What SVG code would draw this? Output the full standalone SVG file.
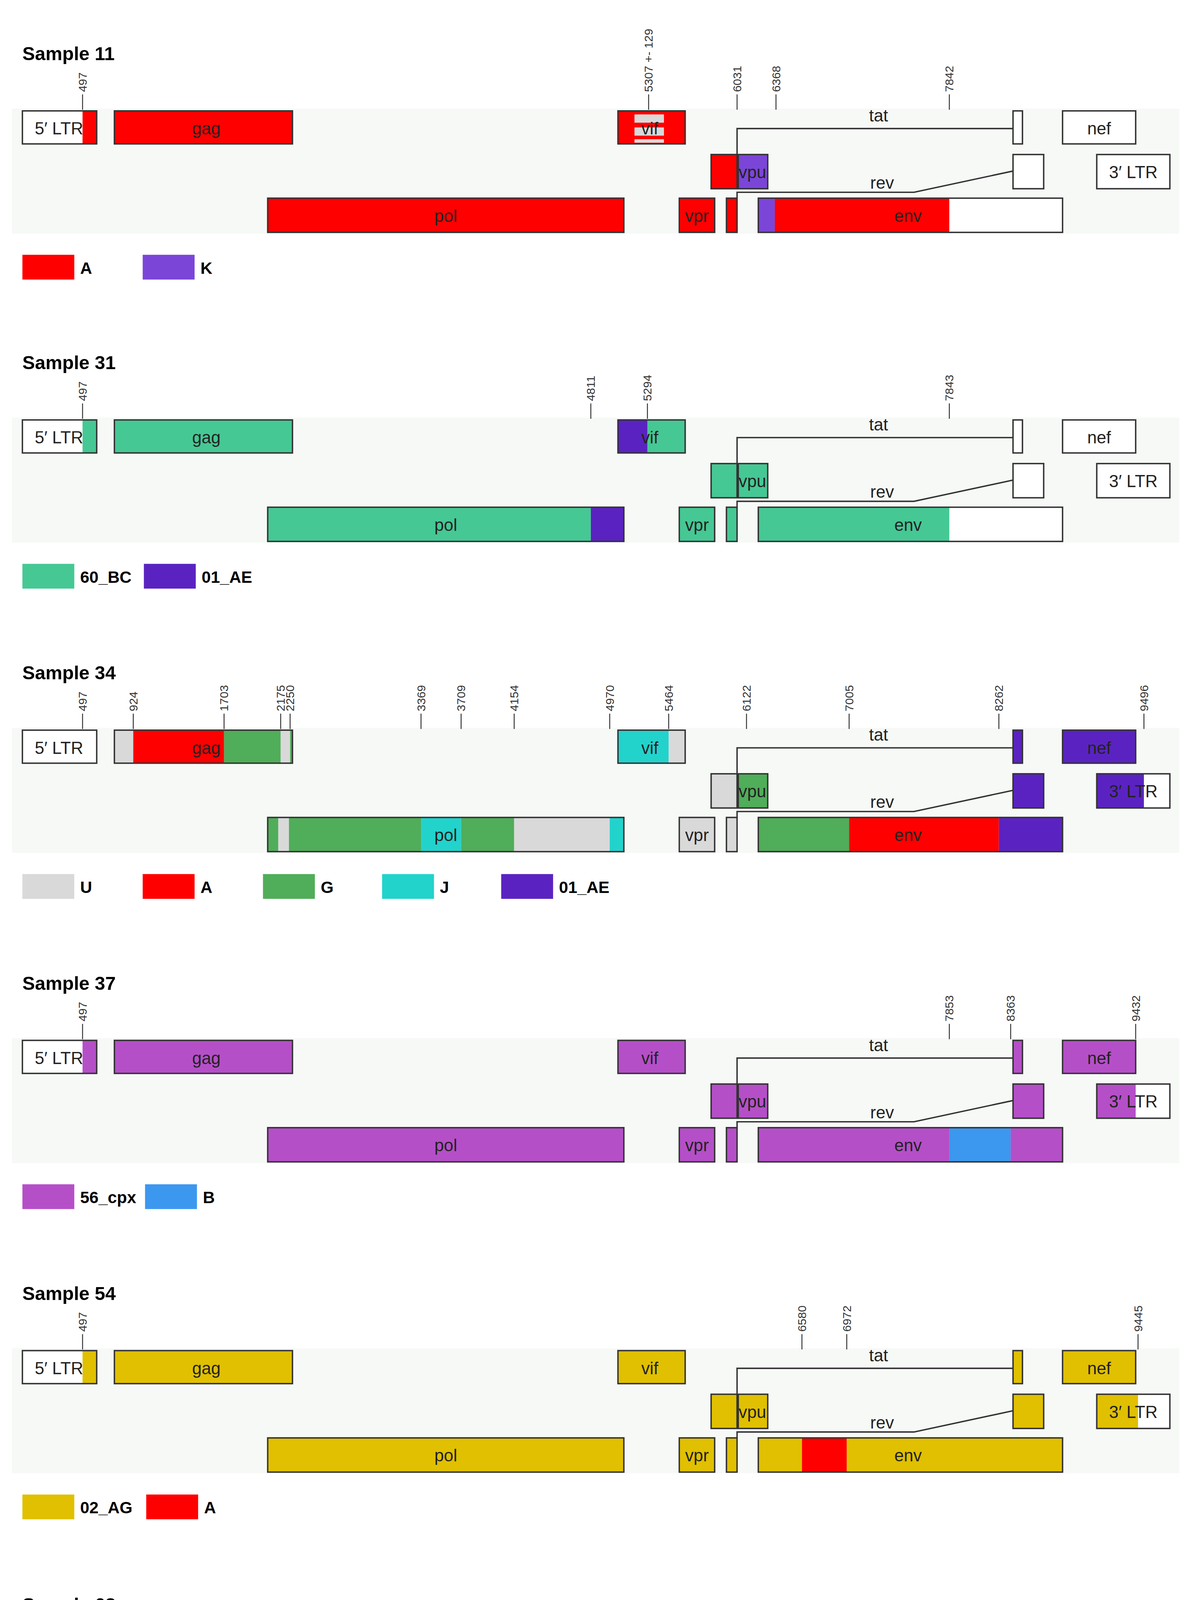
<svg xmlns="http://www.w3.org/2000/svg" width="3065" height="4733" viewBox="0 0 3065 4733">
<style>
text{font-family:"Liberation Sans",Arial,sans-serif;fill:#222}
.t{font-size:16px;font-weight:bold;fill:#000}
.g{font-size:14.5px;text-anchor:middle}
.n{font-size:10px;fill:#333}
.lg{font-size:14px;font-weight:bold;fill:#000}
.o{fill:none;stroke:#333;stroke-width:1.2}
.tk{stroke:#333;stroke-width:0.8}
.c{fill:none;stroke:#333;stroke-width:1.2}
.bd{fill:#f6f9f6}
.W{fill:#fff}.A{fill:#ff0000}.K{fill:#7b45d8}.BC{fill:#45c894}.AE{fill:#5a23c1}
.U{fill:#d9d9d9}.G{fill:#50ad59}.J{fill:#22d3cc}.X{fill:#b54fc8}.B{fill:#3c97ef}
.AG{fill:#e0c000}.P{fill:#8822ff}
</style>
<rect width="3065" height="4733" fill="#fff"/>
<g transform="scale(3.0197)">

<!-- Sample 11 -->
<g id="sample11">
<rect class="bd" x="10" y="92" width="990" height="106"/>
<text class="t" x="19" y="51">Sample 11</text>
<g id="s11-ticks">
<line class="tk" x1="70" y1="93" x2="70" y2="80"/><text class="n" transform="translate(73.5,78) rotate(-90)">497</text>
<line class="tk" x1="550" y1="93" x2="550" y2="80"/><text class="n" transform="translate(553.5,78) rotate(-90)">5307 +- 129</text>
<line class="tk" x1="625" y1="93" x2="625" y2="80"/><text class="n" transform="translate(628.5,78) rotate(-90)">6031</text>
<line class="tk" x1="658" y1="93" x2="658" y2="80"/><text class="n" transform="translate(661.5,78) rotate(-90)">6368</text>
<line class="tk" x1="805" y1="93" x2="805" y2="80"/><text class="n" transform="translate(808.5,78) rotate(-90)">7842</text>
</g>
<g id="s11-ltr5"><rect class="W" x="19" y="94" width="51" height="28"/><rect class="A" x="70" y="94" width="12" height="28"/><rect class="o" x="19" y="94" width="63" height="28"/><text class="g" x="50" y="114">5′ LTR</text></g>
<g id="s11-gag"><rect class="A" x="97" y="94" width="151" height="28"/><rect class="o" x="97" y="94" width="151" height="28"/><text class="g" x="175" y="114">gag</text></g>
<g id="s11-vif"><rect class="A" x="524" y="94" width="57" height="28"/><rect class="U" x="538" y="97" width="25" height="7"/><rect class="U" x="538" y="108" width="25" height="7"/><rect class="U" x="538" y="118" width="25" height="3"/><rect class="o" x="524" y="94" width="57" height="28"/><text class="g" x="551" y="114">vif</text></g>
<g id="s11-tat"><rect class="W" x="859" y="94" width="8" height="28"/><rect class="o" x="859" y="94" width="8" height="28"/><text class="g" x="745" y="103">tat</text></g>
<g id="s11-nef"><rect class="W" x="901" y="94" width="62" height="28"/><rect class="o" x="901" y="94" width="62" height="28"/><text class="g" x="932" y="114">nef</text></g>
<g id="s11-vpu"><rect class="A" x="603" y="131" width="22" height="29"/><rect class="o" x="603" y="131" width="22" height="29"/><rect class="K" x="626" y="131" width="25" height="29"/><rect class="o" x="626" y="131" width="25" height="29"/><text class="g" x="638" y="151">vpu</text></g>
<g id="s11-rev"><rect class="W" x="859" y="131" width="26" height="29"/><rect class="o" x="859" y="131" width="26" height="29"/><text class="g" x="748" y="160">rev</text></g>
<g id="s11-ltr3"><rect class="W" x="930" y="131" width="62" height="29"/><rect class="o" x="930" y="131" width="62" height="29"/><text class="g" x="961" y="151">3′ LTR</text></g>
<g id="s11-pol"><rect class="A" x="227" y="168" width="302" height="29"/><rect class="o" x="227" y="168" width="302" height="29"/><text class="g" x="378" y="188">pol</text></g>
<g id="s11-vpr"><rect class="A" x="576" y="168" width="30" height="29"/><rect class="o" x="576" y="168" width="30" height="29"/><text class="g" x="591" y="188">vpr</text></g>
<g id="s11-x"><rect class="A" x="616" y="168" width="9" height="29"/><rect class="o" x="616" y="168" width="9" height="29"/></g>
<g id="s11-env"><rect class="K" x="643" y="168" width="14" height="29"/><rect class="A" x="657" y="168" width="148" height="29"/><rect class="W" x="805" y="168" width="96" height="29"/><rect class="o" x="643" y="168" width="258" height="29"/><text class="g" x="770" y="188">env</text></g>
<g id="s11-legend"><rect class="A" x="19" y="216" width="44" height="21"/><text class="lg" x="68" y="232">A</text><rect class="K" x="121" y="216" width="44" height="21"/><text class="lg" x="170" y="232">K</text></g>
</g>

<!-- Sample 31 -->
<g id="sample31" transform="translate(0,262)">
<rect class="bd" x="10" y="92" width="990" height="106"/>
<text class="t" x="19" y="51">Sample 31</text>
<g id="s31-ticks">
<line class="tk" x1="70" y1="93" x2="70" y2="80"/><text class="n" transform="translate(73.5,78) rotate(-90)">497</text>
<line class="tk" x1="501" y1="93" x2="501" y2="80"/><text class="n" transform="translate(504.5,78) rotate(-90)">4811</text>
<line class="tk" x1="549" y1="93" x2="549" y2="80"/><text class="n" transform="translate(552.5,78) rotate(-90)">5294</text>
<line class="tk" x1="805" y1="93" x2="805" y2="80"/><text class="n" transform="translate(808.5,78) rotate(-90)">7843</text>
</g>
<g id="s31-ltr5"><rect class="W" x="19" y="94" width="51" height="28"/><rect class="BC" x="70" y="94" width="12" height="28"/><rect class="o" x="19" y="94" width="63" height="28"/><text class="g" x="50" y="114">5′ LTR</text></g>
<g id="s31-gag"><rect class="BC" x="97" y="94" width="151" height="28"/><rect class="o" x="97" y="94" width="151" height="28"/><text class="g" x="175" y="114">gag</text></g>
<g id="s31-vif"><rect class="AE" x="524" y="94" width="25" height="28"/><rect class="BC" x="549" y="94" width="32" height="28"/><rect class="o" x="524" y="94" width="57" height="28"/><text class="g" x="551" y="114">vif</text></g>
<g id="s31-tat"><rect class="W" x="859" y="94" width="8" height="28"/><rect class="o" x="859" y="94" width="8" height="28"/><text class="g" x="745" y="103">tat</text></g>
<g id="s31-nef"><rect class="W" x="901" y="94" width="62" height="28"/><rect class="o" x="901" y="94" width="62" height="28"/><text class="g" x="932" y="114">nef</text></g>
<g id="s31-vpu"><rect class="BC" x="603" y="131" width="22" height="29"/><rect class="o" x="603" y="131" width="22" height="29"/><rect class="BC" x="626" y="131" width="25" height="29"/><rect class="o" x="626" y="131" width="25" height="29"/><text class="g" x="638" y="151">vpu</text></g>
<g id="s31-rev"><rect class="W" x="859" y="131" width="26" height="29"/><rect class="o" x="859" y="131" width="26" height="29"/><text class="g" x="748" y="160">rev</text></g>
<g id="s31-ltr3"><rect class="W" x="930" y="131" width="62" height="29"/><rect class="o" x="930" y="131" width="62" height="29"/><text class="g" x="961" y="151">3′ LTR</text></g>
<g id="s31-pol"><rect class="BC" x="227" y="168" width="274" height="29"/><rect class="AE" x="501" y="168" width="28" height="29"/><rect class="o" x="227" y="168" width="302" height="29"/><text class="g" x="378" y="188">pol</text></g>
<g id="s31-vpr"><rect class="BC" x="576" y="168" width="30" height="29"/><rect class="o" x="576" y="168" width="30" height="29"/><text class="g" x="591" y="188">vpr</text></g>
<g id="s31-x"><rect class="BC" x="616" y="168" width="9" height="29"/><rect class="o" x="616" y="168" width="9" height="29"/></g>
<g id="s31-env"><rect class="BC" x="643" y="168" width="162" height="29"/><rect class="W" x="805" y="168" width="96" height="29"/><rect class="o" x="643" y="168" width="258" height="29"/><text class="g" x="770" y="188">env</text></g>
<g id="s31-legend"><rect class="BC" x="19" y="216" width="44" height="21"/><text class="lg" x="68" y="232">60_BC</text><rect class="AE" x="122" y="216" width="44" height="21"/><text class="lg" x="171" y="232">01_AE</text></g>
</g>

<!-- Sample 34 -->
<g id="sample34" transform="translate(0,525)">
<rect class="bd" x="10" y="92" width="990" height="106"/>
<text class="t" x="19" y="51">Sample 34</text>
<g id="s34-ticks">
<line class="tk" x1="70" y1="93" x2="70" y2="80"/><text class="n" transform="translate(73.5,78) rotate(-90)">497</text>
<line class="tk" x1="113" y1="93" x2="113" y2="80"/><text class="n" transform="translate(116.5,78) rotate(-90)">924</text>
<line class="tk" x1="190" y1="93" x2="190" y2="80"/><text class="n" transform="translate(193.5,78) rotate(-90)">1703</text>
<line class="tk" x1="238" y1="93" x2="238" y2="80"/><text class="n" transform="translate(241.5,78) rotate(-90)">2175</text>
<line class="tk" x1="246" y1="93" x2="246" y2="80"/><text class="n" transform="translate(249.5,78) rotate(-90)">2250</text>
<line class="tk" x1="357" y1="93" x2="357" y2="80"/><text class="n" transform="translate(360.5,78) rotate(-90)">3369</text>
<line class="tk" x1="391" y1="93" x2="391" y2="80"/><text class="n" transform="translate(394.5,78) rotate(-90)">3709</text>
<line class="tk" x1="436" y1="93" x2="436" y2="80"/><text class="n" transform="translate(439.5,78) rotate(-90)">4154</text>
<line class="tk" x1="517" y1="93" x2="517" y2="80"/><text class="n" transform="translate(520.5,78) rotate(-90)">4970</text>
<line class="tk" x1="567" y1="93" x2="567" y2="80"/><text class="n" transform="translate(570.5,78) rotate(-90)">5464</text>
<line class="tk" x1="633" y1="93" x2="633" y2="80"/><text class="n" transform="translate(636.5,78) rotate(-90)">6122</text>
<line class="tk" x1="720" y1="93" x2="720" y2="80"/><text class="n" transform="translate(723.5,78) rotate(-90)">7005</text>
<line class="tk" x1="847" y1="93" x2="847" y2="80"/><text class="n" transform="translate(850.5,78) rotate(-90)">8262</text>
<line class="tk" x1="970" y1="93" x2="970" y2="80"/><text class="n" transform="translate(973.5,78) rotate(-90)">9496</text>
</g>
<g id="s34-ltr5"><rect class="W" x="19" y="94" width="63" height="28"/><rect class="o" x="19" y="94" width="63" height="28"/><text class="g" x="50" y="114">5′ LTR</text></g>
<g id="s34-gag"><rect class="U" x="97" y="94" width="16" height="28"/><rect class="A" x="113" y="94" width="77" height="28"/><rect class="G" x="190" y="94" width="48" height="28"/><rect class="U" x="238" y="94" width="8" height="28"/><rect class="G" x="246" y="94" width="2" height="28"/><rect class="o" x="97" y="94" width="151" height="28"/><text class="g" x="175" y="114">gag</text></g>
<g id="s34-vif"><rect class="J" x="524" y="94" width="43" height="28"/><rect class="U" x="567" y="94" width="14" height="28"/><rect class="o" x="524" y="94" width="57" height="28"/><text class="g" x="551" y="114">vif</text></g>
<g id="s34-tat"><rect class="AE" x="859" y="94" width="8" height="28"/><rect class="o" x="859" y="94" width="8" height="28"/><text class="g" x="745" y="103">tat</text></g>
<g id="s34-nef"><rect class="AE" x="901" y="94" width="62" height="28"/><rect class="o" x="901" y="94" width="62" height="28"/><text class="g" x="932" y="114">nef</text></g>
<g id="s34-vpu"><rect class="U" x="603" y="131" width="22" height="29"/><rect class="o" x="603" y="131" width="22" height="29"/><rect class="G" x="626" y="131" width="25" height="29"/><rect class="o" x="626" y="131" width="25" height="29"/><text class="g" x="638" y="151">vpu</text></g>
<g id="s34-rev"><rect class="AE" x="859" y="131" width="26" height="29"/><rect class="o" x="859" y="131" width="26" height="29"/><text class="g" x="748" y="160">rev</text></g>
<g id="s34-ltr3"><rect class="AE" x="930" y="131" width="40" height="29"/><rect class="W" x="970" y="131" width="22" height="29"/><rect class="o" x="930" y="131" width="62" height="29"/><text class="g" x="961" y="151">3′ LTR</text></g>
<g id="s34-pol"><rect class="G" x="227" y="168" width="9" height="29"/><rect class="U" x="236" y="168" width="9" height="29"/><rect class="G" x="245" y="168" width="112" height="29"/><rect class="J" x="357" y="168" width="34" height="29"/><rect class="G" x="391" y="168" width="45" height="29"/><rect class="U" x="436" y="168" width="81" height="29"/><rect class="J" x="517" y="168" width="12" height="29"/><rect class="o" x="227" y="168" width="302" height="29"/><text class="g" x="378" y="188">pol</text></g>
<g id="s34-vpr"><rect class="U" x="576" y="168" width="30" height="29"/><rect class="o" x="576" y="168" width="30" height="29"/><text class="g" x="591" y="188">vpr</text></g>
<g id="s34-x"><rect class="U" x="616" y="168" width="9" height="29"/><rect class="o" x="616" y="168" width="9" height="29"/></g>
<g id="s34-env"><rect class="G" x="643" y="168" width="77" height="29"/><rect class="A" x="720" y="168" width="127" height="29"/><rect class="AE" x="847" y="168" width="54" height="29"/><rect class="o" x="643" y="168" width="258" height="29"/><text class="g" x="770" y="188">env</text></g>
<g id="s34-legend"><rect class="U" x="19" y="216" width="44" height="21"/><text class="lg" x="68" y="232">U</text><rect class="A" x="121" y="216" width="44" height="21"/><text class="lg" x="170" y="232">A</text><rect class="G" x="223" y="216" width="44" height="21"/><text class="lg" x="272" y="232">G</text><rect class="J" x="324" y="216" width="44" height="21"/><text class="lg" x="373" y="232">J</text><rect class="AE" x="425" y="216" width="44" height="21"/><text class="lg" x="474" y="232">01_AE</text></g>
</g>

<!-- Sample 37 -->
<g id="sample37" transform="translate(0,788)">
<rect class="bd" x="10" y="92" width="990" height="106"/>
<text class="t" x="19" y="51">Sample 37</text>
<g id="s37-ticks">
<line class="tk" x1="70" y1="93" x2="70" y2="80"/><text class="n" transform="translate(73.5,78) rotate(-90)">497</text>
<line class="tk" x1="805" y1="93" x2="805" y2="80"/><text class="n" transform="translate(808.5,78) rotate(-90)">7853</text>
<line class="tk" x1="857" y1="93" x2="857" y2="80"/><text class="n" transform="translate(860.5,78) rotate(-90)">8363</text>
<line class="tk" x1="963" y1="93" x2="963" y2="80"/><text class="n" transform="translate(966.5,78) rotate(-90)">9432</text>
</g>
<g id="s37-ltr5"><rect class="W" x="19" y="94" width="51" height="28"/><rect class="X" x="70" y="94" width="12" height="28"/><rect class="o" x="19" y="94" width="63" height="28"/><text class="g" x="50" y="114">5′ LTR</text></g>
<g id="s37-gag"><rect class="X" x="97" y="94" width="151" height="28"/><rect class="o" x="97" y="94" width="151" height="28"/><text class="g" x="175" y="114">gag</text></g>
<g id="s37-vif"><rect class="X" x="524" y="94" width="57" height="28"/><rect class="o" x="524" y="94" width="57" height="28"/><text class="g" x="551" y="114">vif</text></g>
<g id="s37-tat"><rect class="X" x="859" y="94" width="8" height="28"/><rect class="o" x="859" y="94" width="8" height="28"/><text class="g" x="745" y="103">tat</text></g>
<g id="s37-nef"><rect class="X" x="901" y="94" width="62" height="28"/><rect class="o" x="901" y="94" width="62" height="28"/><text class="g" x="932" y="114">nef</text></g>
<g id="s37-vpu"><rect class="X" x="603" y="131" width="22" height="29"/><rect class="o" x="603" y="131" width="22" height="29"/><rect class="X" x="626" y="131" width="25" height="29"/><rect class="o" x="626" y="131" width="25" height="29"/><text class="g" x="638" y="151">vpu</text></g>
<g id="s37-rev"><rect class="X" x="859" y="131" width="26" height="29"/><rect class="o" x="859" y="131" width="26" height="29"/><text class="g" x="748" y="160">rev</text></g>
<g id="s37-ltr3"><rect class="X" x="930" y="131" width="33" height="29"/><rect class="W" x="963" y="131" width="29" height="29"/><rect class="o" x="930" y="131" width="62" height="29"/><text class="g" x="961" y="151">3′ LTR</text></g>
<g id="s37-pol"><rect class="X" x="227" y="168" width="302" height="29"/><rect class="o" x="227" y="168" width="302" height="29"/><text class="g" x="378" y="188">pol</text></g>
<g id="s37-vpr"><rect class="X" x="576" y="168" width="30" height="29"/><rect class="o" x="576" y="168" width="30" height="29"/><text class="g" x="591" y="188">vpr</text></g>
<g id="s37-x"><rect class="X" x="616" y="168" width="9" height="29"/><rect class="o" x="616" y="168" width="9" height="29"/></g>
<g id="s37-env"><rect class="X" x="643" y="168" width="162" height="29"/><rect class="B" x="805" y="168" width="52" height="29"/><rect class="X" x="857" y="168" width="44" height="29"/><rect class="o" x="643" y="168" width="258" height="29"/><text class="g" x="770" y="188">env</text></g>
<g id="s37-legend"><rect class="X" x="19" y="216" width="44" height="21"/><text class="lg" x="68" y="232">56_cpx</text><rect class="B" x="123" y="216" width="44" height="21"/><text class="lg" x="172" y="232">B</text></g>
</g>

<!-- Sample 54 -->
<g id="sample54" transform="translate(0,1051)">
<rect class="bd" x="10" y="92" width="990" height="106"/>
<text class="t" x="19" y="51">Sample 54</text>
<g id="s54-ticks">
<line class="tk" x1="70" y1="93" x2="70" y2="80"/><text class="n" transform="translate(73.5,78) rotate(-90)">497</text>
<line class="tk" x1="680" y1="93" x2="680" y2="80"/><text class="n" transform="translate(683.5,78) rotate(-90)">6580</text>
<line class="tk" x1="718" y1="93" x2="718" y2="80"/><text class="n" transform="translate(721.5,78) rotate(-90)">6972</text>
<line class="tk" x1="965" y1="93" x2="965" y2="80"/><text class="n" transform="translate(968.5,78) rotate(-90)">9445</text>
</g>
<g id="s54-ltr5"><rect class="W" x="19" y="94" width="51" height="28"/><rect class="AG" x="70" y="94" width="12" height="28"/><rect class="o" x="19" y="94" width="63" height="28"/><text class="g" x="50" y="114">5′ LTR</text></g>
<g id="s54-gag"><rect class="AG" x="97" y="94" width="151" height="28"/><rect class="o" x="97" y="94" width="151" height="28"/><text class="g" x="175" y="114">gag</text></g>
<g id="s54-vif"><rect class="AG" x="524" y="94" width="57" height="28"/><rect class="o" x="524" y="94" width="57" height="28"/><text class="g" x="551" y="114">vif</text></g>
<g id="s54-tat"><rect class="AG" x="859" y="94" width="8" height="28"/><rect class="o" x="859" y="94" width="8" height="28"/><text class="g" x="745" y="103">tat</text></g>
<g id="s54-nef"><rect class="AG" x="901" y="94" width="62" height="28"/><rect class="o" x="901" y="94" width="62" height="28"/><text class="g" x="932" y="114">nef</text></g>
<g id="s54-vpu"><rect class="AG" x="603" y="131" width="22" height="29"/><rect class="o" x="603" y="131" width="22" height="29"/><rect class="AG" x="626" y="131" width="25" height="29"/><rect class="o" x="626" y="131" width="25" height="29"/><text class="g" x="638" y="151">vpu</text></g>
<g id="s54-rev"><rect class="AG" x="859" y="131" width="26" height="29"/><rect class="o" x="859" y="131" width="26" height="29"/><text class="g" x="748" y="160">rev</text></g>
<g id="s54-ltr3"><rect class="AG" x="930" y="131" width="35" height="29"/><rect class="W" x="965" y="131" width="27" height="29"/><rect class="o" x="930" y="131" width="62" height="29"/><text class="g" x="961" y="151">3′ LTR</text></g>
<g id="s54-pol"><rect class="AG" x="227" y="168" width="302" height="29"/><rect class="o" x="227" y="168" width="302" height="29"/><text class="g" x="378" y="188">pol</text></g>
<g id="s54-vpr"><rect class="AG" x="576" y="168" width="30" height="29"/><rect class="o" x="576" y="168" width="30" height="29"/><text class="g" x="591" y="188">vpr</text></g>
<g id="s54-x"><rect class="AG" x="616" y="168" width="9" height="29"/><rect class="o" x="616" y="168" width="9" height="29"/></g>
<g id="s54-env"><rect class="AG" x="643" y="168" width="37" height="29"/><rect class="A" x="680" y="168" width="38" height="29"/><rect class="AG" x="718" y="168" width="183" height="29"/><rect class="o" x="643" y="168" width="258" height="29"/><text class="g" x="770" y="188">env</text></g>
<g id="s54-legend"><rect class="AG" x="19" y="216" width="44" height="21"/><text class="lg" x="68" y="232">02_AG</text><rect class="A" x="124" y="216" width="44" height="21"/><text class="lg" x="173" y="232">A</text></g>
</g>

<!-- Sample 68 -->
<g id="sample68" transform="translate(0,1315)">
<rect class="bd" x="10" y="92" width="990" height="106"/>
<text class="t" x="19" y="51">Sample 68</text>
<g id="s68-ticks">
<line class="tk" x1="70" y1="93" x2="70" y2="80"/><text class="n" transform="translate(73.5,78) rotate(-90)">497</text>
<line class="tk" x1="104" y1="93" x2="104" y2="80"/><text class="n" transform="translate(107.5,78) rotate(-90)">845</text>
<line class="tk" x1="133" y1="93" x2="133" y2="80"/><text class="n" transform="translate(136.5,78) rotate(-90)">1123</text>
<line class="tk" x1="260" y1="93" x2="260" y2="80"/><text class="n" transform="translate(263.5,78) rotate(-90)">2391</text>
<line class="tk" x1="328" y1="93" x2="328" y2="80"/><text class="n" transform="translate(331.5,78) rotate(-90)">3085</text>
<line class="tk" x1="435" y1="93" x2="435" y2="80"/><text class="n" transform="translate(438.5,78) rotate(-90)">4133</text>
<line class="tk" x1="508" y1="93" x2="508" y2="80"/><text class="n" transform="translate(511.5,78) rotate(-90)">4861</text>
<line class="tk" x1="549" y1="93" x2="549" y2="80"/><text class="n" transform="translate(552.5,78) rotate(-90)">5284</text>
<line class="tk" x1="576" y1="93" x2="576" y2="80"/><text class="n" transform="translate(579.5,78) rotate(-90)">5544</text>
<line class="tk" x1="597" y1="93" x2="597" y2="80"/><text class="n" transform="translate(600.5,78) rotate(-90)">5767</text>
<line class="tk" x1="684" y1="93" x2="684" y2="80"/><text class="n" transform="translate(687.5,78) rotate(-90)">6619</text>
<line class="tk" x1="712" y1="93" x2="712" y2="80"/><text class="n" transform="translate(715.5,78) rotate(-90)">6907</text>
<line class="tk" x1="740" y1="93" x2="740" y2="80"/><text class="n" transform="translate(743.5,78) rotate(-90)">7183</text>
<line class="tk" x1="800" y1="93" x2="800" y2="80"/><text class="n" transform="translate(803.5,78) rotate(-90)">7795</text>
<line class="tk" x1="850" y1="93" x2="850" y2="80"/><text class="n" transform="translate(853.5,78) rotate(-90)">8278</text>
<line class="tk" x1="970" y1="93" x2="970" y2="80"/><text class="n" transform="translate(973.5,78) rotate(-90)">9496</text>
</g>
<g id="s68-ltr5"><rect class="W" x="19" y="94" width="51" height="28"/><rect class="U" x="70" y="94" width="12" height="28"/><rect class="o" x="19" y="94" width="63" height="28"/><text class="g" x="50" y="114">5′ LTR</text></g>
<g id="s68-gag"><rect class="U" x="97" y="94" width="7" height="28"/><rect class="P" x="104" y="94" width="29" height="28"/><rect class="G" x="133" y="94" width="115" height="28"/><rect class="o" x="97" y="94" width="151" height="28"/><text class="g" x="175" y="114">gag</text></g>
<g id="s68-vif"><rect class="A" x="524" y="94" width="25" height="28"/><rect class="P" x="549" y="94" width="27" height="28"/><rect class="U" x="576" y="94" width="5" height="28"/><rect class="o" x="524" y="94" width="57" height="28"/><text class="g" x="551" y="114">vif</text></g>
<g id="s68-tat"><rect class="G" x="859" y="94" width="8" height="28"/><rect class="o" x="859" y="94" width="8" height="28"/><text class="g" x="745" y="103">tat</text></g>
<g id="s68-nef"><rect class="G" x="901" y="94" width="62" height="28"/><rect class="o" x="901" y="94" width="62" height="28"/><text class="g" x="932" y="114">nef</text></g>
<g id="s68-vpu"><rect class="P" x="603" y="131" width="22" height="29"/><rect class="o" x="603" y="131" width="22" height="29"/><rect class="P" x="626" y="131" width="25" height="29"/><rect class="o" x="626" y="131" width="25" height="29"/><text class="g" x="638" y="151">vpu</text></g>
<g id="s68-rev"><rect class="G" x="859" y="131" width="26" height="29"/><rect class="o" x="859" y="131" width="26" height="29"/><text class="g" x="748" y="160">rev</text></g>
<g id="s68-ltr3"><rect class="G" x="930" y="131" width="35" height="29"/><rect class="W" x="965" y="131" width="27" height="29"/><rect class="o" x="930" y="131" width="62" height="29"/><text class="g" x="961" y="151">3′ LTR</text></g>
<g id="s68-pol"><rect class="G" x="227" y="168" width="33" height="29"/><rect class="P" x="260" y="168" width="68" height="29"/><rect class="B" x="328" y="168" width="107" height="29"/><rect class="P" x="435" y="168" width="73" height="29"/><rect class="A" x="508" y="168" width="21" height="29"/><rect class="o" x="227" y="168" width="302" height="29"/><text class="g" x="378" y="188">pol</text></g>
<g id="s68-vpr"><rect class="U" x="576" y="168" width="22" height="29"/><rect class="P" x="598" y="168" width="8" height="29"/><rect class="o" x="576" y="168" width="30" height="29"/><text class="g" x="591" y="188">vpr</text></g>
<g id="s68-x"><rect class="P" x="616" y="168" width="9" height="29"/><rect class="o" x="616" y="168" width="9" height="29"/></g>
<g id="s68-env"><rect class="P" x="643" y="168" width="41" height="29"/><rect class="G" x="684" y="168" width="28" height="29"/><rect class="P" x="712" y="168" width="28" height="29"/><rect class="G" x="740" y="168" width="60" height="29"/><rect class="P" x="800" y="168" width="50" height="29"/><rect class="G" x="850" y="168" width="51" height="29"/><rect class="o" x="643" y="168" width="258" height="29"/><text class="g" x="770" y="188">env</text></g>
<g id="s68-legend"><rect class="U" x="19" y="216" width="44" height="21"/><text class="lg" x="68" y="232">U</text><rect class="P" x="121" y="216" width="44" height="21"/><text class="lg" x="168" y="232">19_cpx</text><rect class="G" x="223" y="216" width="44" height="21"/><text class="lg" x="272" y="232">G</text><rect class="B" x="324" y="216" width="44" height="21"/><text class="lg" x="373" y="232">B</text><rect class="A" x="425" y="216" width="44" height="21"/><text class="lg" x="474" y="232">A</text></g>
</g>

<g id="connectors">
<path class="c" d="M625,131 V109 H859 M625,168 V163 H775 L859,145"/>
<path class="c" transform="translate(0,262)" d="M625,131 V109 H859 M625,168 V163 H775 L859,145"/>
<path class="c" transform="translate(0,525)" d="M625,131 V109 H859 M625,168 V163 H775 L859,145"/>
<path class="c" transform="translate(0,788)" d="M625,131 V109 H859 M625,168 V163 H775 L859,145"/>
<path class="c" transform="translate(0,1051)" d="M625,131 V109 H859 M625,168 V163 H775 L859,145"/>
<path class="c" transform="translate(0,1315)" d="M625,131 V109 H859 M625,168 V163 H775 L859,145"/>
</g>
</g>
</svg>
